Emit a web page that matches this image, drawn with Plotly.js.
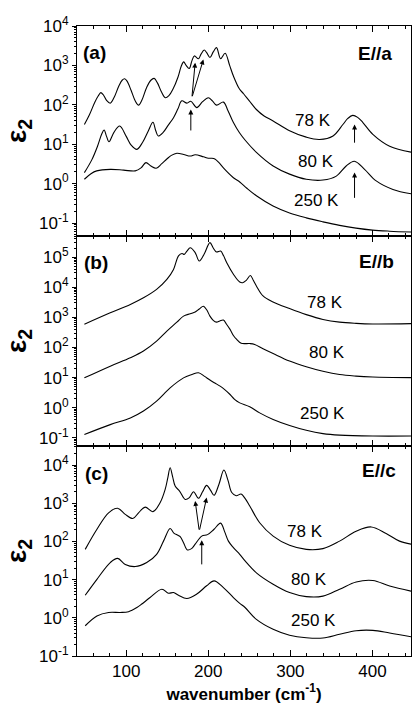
<!DOCTYPE html>
<html>
<head>
<meta charset="utf-8">
<script src="https://cdn.plot.ly/plotly-3.0.1.min.js"></script>
<style>html,body{margin:0;padding:0;background:#fff;overflow:hidden}</style>
</head>
<body>
<div id="chart" style="width:412px;height:704px"></div>
<script>
// ---- Panel (a) E//a ----
const wnA78 = [49,55,62,66,69,72,76,80.5,85,91,95,98,101,106,111,115,119,125,130,134,138,143,147.5,152,157,163,167,170,173,176.7,180,183,188,191,195,198,202,206,210,215,220.5,226,230.6,238,243,250,258.6,268,279,299,319.4,335.6,352,364,370,376,382,388.4,400.5,421,447];
const epsA78 = [31.6,55,120,170,204,180,130,110,150,300,420,457,400,230,125,98,130,280,420,468,360,210,151,170,250,500,950,1230,1000,832,1300,1740,1480,1900,2450,2100,1580,2200,2820,1480,2040,1000,537,251,191,126,76,52,39,22,15.1,13.2,16.2,31.6,45,54,48,35.5,17.8,8.9,6.3];
const wnA80 = [49,58,65,70,73,76,79,85,92,100,106,113,120,127,132.5,136,139,145,151,157.6,163,167.7,174,178.7,186,193,200,205,210,218.4,224,230.6,238,245,258.6,279,299,319.4,339.7,356,368,378,390.4,404.6,425,447];
const epsA80 = [1.9,4.0,8.9,17.8,23,15.8,11.5,20,29,15.8,9.5,7.4,11.2,22,36,22,16.2,20,30,47,79,126,110,123,85,120,151,126,98,117,71,35.5,19.5,12.6,6.2,2.8,1.74,1.29,1.23,1.55,2.8,3.7,2.3,1.17,0.71,0.55];
const wnA250 = [49,57,64,80.5,96.8,111,118,124,130,136.5,143,149.5,155,161.7,170,178,184,194,200,204,208,213,218.4,230.6,238.3,247,258.6,278.9,299,319.4,339.7,360,380,400,421,447];
const epsA250 = [1.29,1.78,2.1,2.3,2.2,2.1,2.5,3.4,2.8,2.45,3.16,4.2,5.2,5.9,5.5,5.0,5.4,4.8,4.4,4.4,4.2,3.4,2.5,1.41,1.1,0.76,0.49,0.27,0.18,0.135,0.107,0.087,0.074,0.066,0.062,0.059];

// ---- Panel (b) E//b ----
const wnB78 = [49,80.5,105,121,137,149.5,157.6,163.7,168,170.6,174,178,184,189,195,202,206,210,215,218.5,222.5,230.6,238.3,242,246,251.3,255,258.6,266.7,278.9,299,319.4,339.7,360,380.2,400.5,447];
const epsB78 = [589,1410,2690,4470,8510,18200,38900,110000,132000,123000,158000,204000,141000,74100,126000,302000,200000,148000,158000,112000,64600,26900,14800,14100,16600,24500,16600,11000,5130,3240,1950,1230,851,692,631,603,617];
const wnB80 = [49,80.5,105,121,137,149.5,161.7,169.8,178,184,189,194,198,202,206,210,214,218.4,222,226.5,230.6,234.6,240,250.5,256.5,266.7,279,299,319.4,339.7,360,380,400.5,447];
const epsB80 = [9.8,24,45.7,76,162,347,692,1100,1320,1510,1900,2340,1780,1100,794,692,759,813,603,398,251,186,138,135,126,91,63,35.5,22.9,16.2,12.6,11.2,10.5,10.0];
const wnB250 = [49,80.5,105,121,137,153.5,169.8,180,188,195,202,208,214.4,220,226.5,232,238.3,250.5,262.6,279,299,319.4,339.7,360,400.5,447];
const epsB250 = [0.129,0.275,0.457,0.776,1.66,4.57,9.8,12.6,14.5,11.2,8.3,6.6,5.2,3.98,2.75,1.9,1.45,1.07,0.676,0.407,0.257,0.178,0.138,0.123,0.115,0.115];

// ---- Panel (c) E//c ----
const wnC78 = [50,64.3,78.5,89.5,98.8,108,115,123,132.5,141.4,147.5,150.5,153.5,156.5,159.6,165,171.8,177,182,188,193,198,203,207,213,219,224,228.6,234,240,245,250.5,262.6,279,299,319.4,339.7,360,380.2,398.5,416.7,433,447];
const epsC78 = [62,209,562,741,513,398,562,794,603,1050,2340,4470,8510,5010,2820,2090,1260,1410,2000,1350,2000,2950,2140,1620,3160,7410,3980,1910,1580,1740,1320,851,309,138,79,62,65,102,186,240,162,102,85];
const wnC80 = [50,64.3,80.5,89.5,98.8,111,125,137,145.4,153.5,158,163,166,169.8,174.6,180,184,192,199,207,215,220,224.5,230.6,238.3,244.8,258.6,279,299,319.4,339.7,360,380.2,400.5,421,447];
const epsC80 = [3.9,10.2,28,36,25,22,28,46,102,219,166,145,132,93,60,66,85,138,151,209,302,178,102,69,46,31,15.1,7.6,4.6,3.6,3.7,5.6,8.7,9.5,6.8,5.0];
const wnC250 = [50,64.3,78.5,92.7,102.8,113,119,129,143.4,151.5,157.6,163.7,173.8,186,198,207,218.4,230.6,238.3,244.8,258.6,279,299,319.4,339.7,360,380.2,400.5,421,447];
const epsC250 = [0.62,1.12,1.38,1.38,1.45,1.86,2.3,3.4,5.6,4.4,4.6,3.9,3.2,4.2,6.9,9.3,6.2,3.4,2.4,1.86,0.91,0.50,0.35,0.30,0.295,0.37,0.46,0.47,0.40,0.32];

const tempLabels = ['78 K','80 K','250 K'];
const panelLabels = ['(a)','(b)','(c)'];
const polLabels = ['E//a','E//b','E//c'];
const yTickVals = [0.1,1,10,100,1000,10000,100000];
const yTickText = ['10<sup>-1</sup>','10<sup>0</sup>','10<sup>1</sup>','10<sup>2</sup>','10<sup>3</sup>','10<sup>4</sup>','10<sup>5</sup>'];
const xTitle = '<b>wavenumber (cm<sup>-1</sup>)</b>';
const yTitle = '<b>ε<sub>2</sub></b>';

const FONT = 'Liberation Sans, Arial, Helvetica, sans-serif';
const line = {color:'black', width:1.1, shape:'spline', smoothing:1.0};

function tr(x, y, xa, ya){ return {x:x, y:y, xaxis:xa, yaxis:ya, type:'scatter', mode:'lines', line:line, hoverinfo:'skip', showlegend:false}; }

const data = [
  tr(wnA78,epsA78,'x','y'), tr(wnA80,epsA80,'x','y'), tr(wnA250,epsA250,'x','y'),
  tr(wnB78,epsB78,'x2','y2'), tr(wnB80,epsB80,'x2','y2'), tr(wnB250,epsB250,'x2','y2'),
  tr(wnC78,epsC78,'x3','y3'), tr(wnC80,epsC80,'x3','y3'), tr(wnC250,epsC250,'x3','y3')
];

const minorVals = [];
for (let d=-2; d<=6; d++) for (let k=2; k<=9; k++) minorVals.push(k*Math.pow(10,d));

function xax(anchor, labels){
  const a = {anchor:anchor, range:[40,447], showline:true, linecolor:'black', linewidth:1, mirror:'ticks',
    ticks:'inside', ticklen:6, tickwidth:1, tickcolor:'black', tick0:0, dtick:100,
    minor:{tick0:0, dtick:20, ticks:'inside', ticklen:3, tickcolor:'black', tickwidth:1},
    showticklabels:labels, tickfont:{family:FONT, size:17, color:'black'}, showgrid:false, zeroline:false};
  if (labels) a.title = {text:xTitle, font:{family:FONT, size:17, color:'black'}, standoff:1};
  return a;
}
function yax(anchor, domain, range){
  return {anchor:anchor, domain:domain, type:'log', range:range, showline:true, linecolor:'black', linewidth:1, mirror:true,
    ticks:'outside', ticklen:4, tickwidth:1, tickcolor:'black', tickmode:'array', tickvals:yTickVals, ticktext:yTickText,
    minor:{tickmode:'array', tickvals:minorVals, ticks:'outside', ticklen:2.5, tickcolor:'black', tickwidth:1},
    tickfont:{family:FONT, size:17, color:'black'}, showgrid:false, zeroline:false,
    title:{text:yTitle, font:{family:FONT, size:28, color:'black'}, standoff:4}};
}
function yaxR(anchor, over, range){
  return {anchor:anchor, overlaying:over, side:'right', type:'log', range:range, showline:false,
    ticks:'inside', ticklen:4, tickwidth:1, tickcolor:'black', tickmode:'array', tickvals:yTickVals,
    showticklabels:false, showgrid:false, zeroline:false};
}

function txt(xr, yr, x, y, t, size, bold){
  return {xref:xr, yref:yr, x:x, y:y, text: bold ? '<b>'+t+'</b>' : t, showarrow:false,
    font:{family:FONT, size:size, color:'black'}, xanchor:'center', yanchor:'middle'};
}
function arr(xr, yr, x, y, ax, ay){
  return {xref:xr, yref:yr, axref:xr, ayref:yr, x:x, y:y, ax:ax, ay:ay, text:'', showarrow:true,
    arrowhead:2, arrowsize:1, arrowwidth:1, arrowcolor:'black'};
}

const annotations = [
  txt('x','y',61.3,3.34,panelLabels[0],19,true),
  txt('x','y',403.3,3.29,polLabels[0],19,true),
  txt('x','y',327.5,1.59,tempLabels[0],17,false),
  txt('x','y',331,0.55,tempLabels[1],17,false),
  txt('x','y',331.6,-0.42,tempLabels[2],17,false),
  arr('x','y',184,3.07,180,2.18), arr('x','y',194,3.15,180,2.18),
  arr('x','y',178.7,1.88,178.7,1.31),
  arr('x','y',378.2,1.50,378.2,1.0),
  arr('x','y',378.2,0.28,378.2,-0.40),

  txt('x2','y2',63.5,4.81,panelLabels[1],19,true),
  txt('x2','y2',405.3,4.87,polLabels[1],19,true),
  txt('x2','y2',342.7,3.48,tempLabels[0],17,false),
  txt('x2','y2',344.4,1.85,tempLabels[1],17,false),
  txt('x2','y2',338.7,-0.20,tempLabels[2],17,false),

  txt('x3','y3',64.3,3.78,panelLabels[2],19,true),
  txt('x3','y3',407.6,3.86,polLabels[2],19,true),
  txt('x3','y3',318.4,2.27,tempLabels[0],17,false),
  txt('x3','y3',322.4,1.01,tempLabels[1],17,false),
  txt('x3','y3',328,-0.08,tempLabels[2],17,false),
  arr('x3','y3',184,3.06,189,2.27), arr('x3','y3',198,3.15,189,2.27),
  arr('x3','y3',192,2.03,192,1.36)
];

const layout = {
  width:412, height:704, margin:{l:77, r:1, t:26, b:48}, paper_bgcolor:'white', plot_bgcolor:'white',
  font:{family:FONT, color:'black'}, showlegend:false,
  xaxis: xax('y', false), xaxis2: xax('y2', false), xaxis3: xax('y3', true),
  yaxis: yax('x', [2/3, 1], [-1.33, 4]),
  yaxis2: yax('x2', [1/3, 2/3], [-1.27, 5.7]),
  yaxis3: yax('x3', [0, 1/3], [-1, 4.5]),
  yaxis4: yaxR('x', 'y', [-1.33, 4]),
  yaxis5: yaxR('x2', 'y2', [-1.27, 5.7]),
  yaxis6: yaxR('x3', 'y3', [-1, 4.5]),
  annotations: annotations
};

Plotly.newPlot('chart', data, layout, {staticPlot:true, displayModeBar:false});
</script>
</body>
</html>
